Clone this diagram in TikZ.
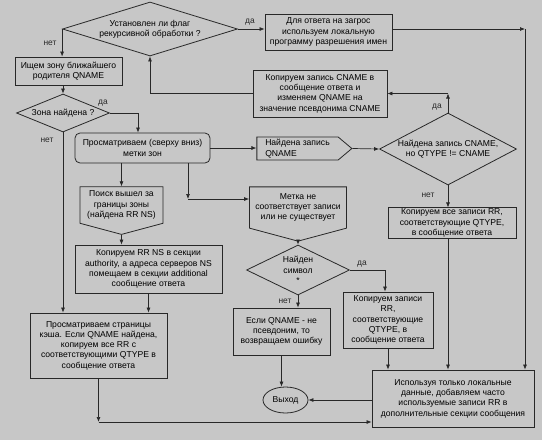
\documentclass[tikz,border=0pt]{standalone}
\usepackage{fontspec}
\setmainfont{Liberation Sans}
\usetikzlibrary{arrows.meta,shapes.geometric,shapes.symbols,calc}
\definecolor{paper}{RGB}{199,199,199}
\definecolor{ink}{RGB}{40,40,40}
\tikzset{
  box/.style={draw=ink,fill=paper,line width=0.8pt,align=center,
    font=\fontsize{8.6}{10.3}\selectfont,inner sep=1pt},
  ask/.style={box,diamond,inner sep=0pt,aspect=3},
  sig/.style={box,signal,signal from=nowhere,signal to=#1},
  flow/.style={-{Latex[length=5pt,width=4pt]},line width=0.7pt,draw=ink},
  tag/.style={font=\fontsize{8.4}{9}\selectfont,text=ink,inner sep=0pt},
}

\begin{document}
\begin{tikzpicture}[x=1pt,y=-1pt]
  \useasboundingbox[fill=paper] (0,0) rectangle (542,440);
  % decisions
  \node[ask,minimum width=175,minimum height=54,inner xsep=-4pt] (rec) at (150,29) {Установлен ли флаг\\рекурсивной обработки ?};
  \node[ask,minimum width=93,minimum height=38] (found) at (63,113) {Зона найдена ?};
  \node[ask,minimum width=137,minimum height=72,aspect=2,inner xsep=-10pt] (cnq) at (448,149) {Найдена запись CNAME,\\но QTYPE != CNAME};
  \node[ask,minimum width=103,minimum height=50,aspect=1.6] (star) at (298,270) {Найден\\символ\\*};
  % actions
  \node[box,minimum width=127,minimum height=36] (local) at (328.5,32) {Для ответа на загрос\\используем локальную\\программу разрешения имен};
  \node[box,minimum width=107,minimum height=28] (parent) at (68.5,71) {Ищем зону ближайшего\\родителя QNAME};
  \node[box,minimum width=134,minimum height=47] (cname) at (320,93.5) {Копируем запись CNAME в\\сообщение ответа и\\изменяем QNAME на\\значение псевдонима CNAME};
  \node[box,rounded corners=5pt,minimum width=135,minimum height=30] (scan) at (142.5,148) {Просматриваем (сверху вниз)\\метки зон};
  \node[sig=east,align=left,signal pointer angle=80,minimum width=95,minimum height=23] (qname) at (297.5,148.5) {Найдена запись\\QNAME};
  \node[sig=south,signal pointer angle=150,minimum width=83,minimum height=46] (zone) at (121.5,205) {Поиск вышел за\\границы зоны\\(найдена RR NS)};
  \node[sig=south,signal pointer angle=150,minimum width=97,minimum height=53] (label) at (298,207.5) {Метка не\\соответствует записи\\или не существует};
  \node[box,minimum width=128,minimum height=30] (allrr) at (452,223) {Копируем все записи RR,\\соответствующие QTYPE,\\в сообщение ответа};
  \node[box,minimum width=147,minimum height=48] (nsbox) at (148.5,269) {Копируем RR NS в секции\\authority, а адреса серверов NS\\помещаем в секции additional\\сообщение ответа};
  \node[box,minimum width=137,minimum height=65] (cache) at (98.5,345.5) {Просматриваем страницы\\кэша. Если QNAME найдена,\\копируем все RR с\\соответствующими QTYPE в\\сообщение ответа};
  \node[box,minimum width=97,minimum height=47] (err) at (281.5,331.5) {Если QNAME - не\\псевдоним, то\\возвращаем ошибку};
  \node[box,minimum width=90,minimum height=56] (copyrr) at (388,320) {Копируем записи\\RR,\\соответствующие\\QTYPE, в\\сообщение ответа};
  \node[box,minimum width=162,minimum height=57] (final) at (453,398.5) {Используя только локальные\\данные, добавляем часто\\используемые записи RR в\\дополнительные секции сообщения};
  \node[box,ellipse,inner sep=0pt,minimum width=45,minimum height=26] (exitn) at (285.5,400) {Выход};
  % corners
  \coordinate (lc) at (525,29);
  \coordinate (sc) at (188,199);
  \coordinate (cc) at (98.5,422);
  \coordinate (cq) at (cnq.north |- cname.east);
  % connectors
  \draw[flow] (rec.east) -- (rec.east -| local.west);
  \draw[flow] (rec.west) -- (rec.west |- parent.north);
  \draw[flow] (parent.south -| found.north) -- (found.north);
  \draw[flow] (found.east) -| ([xshift=-4.5pt]scan.north);
  \draw[flow] (found.south) -- (found.south |- cache.north);
  \draw[flow] (cname.west) -| (rec.south);
  \draw[flow] (local.east |- lc) -- (lc);
  \draw[flow] (lc) -- (lc |- final.north);
  \draw[flow] (scan.east) -- (scan.east -| qname.west);
  \draw[flow] (zone.north |- scan.south) -- (zone.north);
  \draw[flow] (sc |- scan.south) -- (sc);
  \draw[flow] (sc) -- (sc -| label.west);
  \draw[flow] (zone.south) -- (zone.south |- nsbox.north);
  \draw[flow] (nsbox.south) -- (nsbox.south |- cache.north);
  \draw[flow] (cache.south) -- (cc);
  \draw[flow] (cc) -- (cc -| final.west);
  \draw[flow] (qname.east) -- (cnq.west);
  \draw[flow] (cnq.north) -- (cq);
  \draw[flow] (cq) -- (cname.east);
  \draw[flow] (cnq.south) -- (cnq.south |- allrr.north);
  \draw[flow] (allrr.south -| cnq.south) -- (cnq.south |- final.north);
  \draw[flow] (label.south) -- (star.north);
  \draw[flow] (star.east) -| ([xshift=-3pt]copyrr.north);
  \draw[flow] (star.south) -- (star.south |- err.north);
  \draw[flow] (copyrr.south) -- (copyrr.south |- final.north);
  \draw[flow] (err.south) -- (err.south |- exitn.north);
  \draw[flow] (final.west |- exitn.east) -- (exitn.east);
  % yes / no
  \node[tag] (t1) at (250,22) {да};
  \node[tag] (t2) at (50,43) {нет};
  \node[tag] (t3) at (103,103) {да};
  \node[tag] (t4) at (47,140) {нет};
  \node[tag] (t5) at (437,107) {да};
  \node[tag] (t6) at (428,195) {нет};
  \node[tag] (t7) at (362,264) {да};
  \node[tag] (t8) at (285,301) {нет};
\end{tikzpicture}
\end{document}
